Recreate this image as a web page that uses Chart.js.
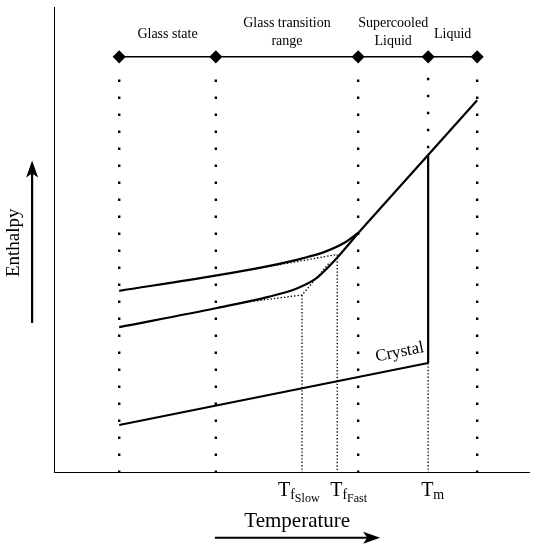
<!DOCTYPE html>
<html>
<head>
<meta charset="utf-8">
<script src="https://cdn.jsdelivr.net/npm/chart.js@4.4.1/dist/chart.umd.min.js"></script>
<style>
  html, body { margin: 0; padding: 0; background: #fff; }
  #wrap { width: 548px; height: 550px; }
</style>
</head>
<body>
<div id="wrap"><canvas id="chart"></canvas></div>
<script>
// Schematic units: temperature 0..100 (left to right), enthalpy 0..100 (bottom to top)
const regionBounds = [13.7, 34.0, 63.9, 78.6, 88.9];
const regionNames = [['Glass state'], ['Glass transition', 'range'], ['Supercooled', 'Liquid'], ['Liquid']];
const rangeLevel = 89.3;
const guideTop = 84.8;

const fastCoolT = [13.7, 34.2, 45.0, 52.0, 57.0, 61.0, 64.1];
const fastCoolH = [39.1, 42.4, 44.4, 46.0, 47.5, 49.4, 51.7];
const slowCoolT = [13.7, 34.2, 45.0, 51.0, 55.0, 58.0, 60.0, 64.1];
const slowCoolH = [31.3, 35.4, 37.8, 39.6, 41.7, 44.6, 46.8, 51.7];
const liquidT = [64.1, 88.9];
const liquidH = [51.7, 80.0];
const crystalT = [13.7, 78.6];
const crystalH = [10.3, 23.6];

const tfSlow = 52.1, tfFast = 59.5, tm = 78.6;
const tmLiquidH = 68.2;
// fictive temperature constructions: glass extension, then liquid extension
const slowGlassExt = [[39.1, 36.5], [tfSlow, 38.2], [58.0, 45.3]];
const fastGlassExt = [[41.2, 43.6], [tfFast, 46.9]];

const pts = (xs, ys) => xs.map((x, i) => ({ x: x, y: ys[i] }));
const seg = (a) => a.map(p => ({ x: p[0], y: p[1] }));

const solid = { showLine: true, pointRadius: 0, borderColor: '#000', borderWidth: 2.2, fill: false };
const sparse = { showLine: true, pointRadius: 0, borderColor: '#000', borderWidth: 2.4, borderDash: [2.4, 14.6] };
const fine = { showLine: true, pointRadius: 0, borderColor: '#000', borderWidth: 1.3, borderDash: [1.4, 2] };

const datasets = [];
// region guides
regionBounds.forEach(x => {
  if (x === tm) {
    datasets.push({ ...sparse, data: [{ x: x, y: guideTop }, { x: x, y: tmLiquidH }] });
  } else {
    datasets.push({ ...sparse, data: [{ x: x, y: 0 }, { x: x, y: guideTop }] });
  }
});
// fictive temperature guides
datasets.push({ ...fine, data: seg(slowGlassExt) });
datasets.push({ ...fine, data: seg(fastGlassExt) });
datasets.push({ ...fine, data: [{ x: tfSlow, y: 38.2 }, { x: tfSlow, y: 0 }] });
datasets.push({ ...fine, data: [{ x: tfFast, y: 46.9 }, { x: tfFast, y: 0 }] });
datasets.push({ ...fine, data: [{ x: tm, y: crystalH[1] }, { x: tm, y: 0 }] });
// curves
datasets.push({ ...solid, data: pts(fastCoolT, fastCoolH), cubicInterpolationMode: 'monotone' });
datasets.push({ ...solid, data: pts(slowCoolT, slowCoolH), cubicInterpolationMode: 'monotone' });
datasets.push({ ...solid, data: pts(liquidT, liquidH) });
datasets.push({ ...solid, data: pts(crystalT, crystalH) });
datasets.push({ ...solid, data: [{ x: tm, y: crystalH[1] }, { x: tm, y: tmLiquidH }] });
// region bar with diamonds
datasets.push({ ...solid, borderWidth: 1.5, data: regionBounds.map(x => ({ x: x, y: rangeLevel })),
  pointRadius: 5.5, pointStyle: 'rectRot', pointBackgroundColor: '#000', pointBorderColor: '#000' });
// axes
datasets.push({ ...solid, borderWidth: 2, data: [{ x: 0, y: 100 }, { x: 0, y: 0 }, { x: 100, y: 0 }] });
// axis arrows (outside the plot area), heads drawn by the plugin
datasets.push({ ...solid, clip: false, arrow: true, data: [{ x: 33.8, y: -13.9 }, { x: 66.0, y: -13.9 }] });
datasets.push({ ...solid, clip: false, arrow: true, data: [{ x: -4.6, y: 32.2 }, { x: -4.6, y: 64.5 }] });

const serif = '"Liberation Serif", "DejaVu Serif", serif';

const labels = {
  id: 'labels',
  afterDatasetsDraw(chart) {
    const { ctx, scales: { x, y } } = chart;
    const px = v => x.getPixelForValue(v), py = v => y.getPixelForValue(v);
    ctx.save();
    ctx.fillStyle = '#000';

    // arrow heads
    chart.data.datasets.forEach((ds, i) => {
      if (!ds.arrow) return;
      const el = chart.getDatasetMeta(i).data;
      const a = el[el.length - 2], b = el[el.length - 1];
      const ang = Math.atan2(b.y - a.y, b.x - a.x);
      ctx.save();
      ctx.translate(b.x, b.y);
      ctx.rotate(ang);
      ctx.beginPath();
      ctx.moveTo(12, 0);
      ctx.lineTo(-5, -6);
      ctx.lineTo(-1, 0);
      ctx.lineTo(-5, 6);
      ctx.closePath();
      ctx.fill();
      ctx.restore();
    });

    ctx.textAlign = 'center';
    ctx.textBaseline = 'middle';
    ctx.font = '14px ' + serif;
    regionNames.forEach((lines, i) => {
      const cx = (regionBounds[i] + regionBounds[i + 1]) / 2;
      const cy = lines.length === 1 ? 94.2 : 96.6;
      lines.forEach((t, k) => ctx.fillText(t, px(cx), py(cy) + k * 18));
    });

    ctx.font = '21px ' + serif;
    ctx.fillText('Temperature', px(51.1), py(-10.5));

    ctx.save();
    ctx.translate(px(-8.4), py(49.4));
    ctx.rotate(-Math.PI / 2);
    ctx.font = '19px ' + serif;
    ctx.fillText('Enthalpy', 0, 0);
    ctx.restore();

    ctx.save();
    ctx.translate(px(72.6), py(25.9));
    ctx.rotate(-Math.atan2(py(crystalH[0]) - py(crystalH[1]), px(crystalT[1]) - px(crystalT[0])));
    ctx.font = '17px ' + serif;
    ctx.fillText('Crystal', 0, 0);
    ctx.restore();

    // temperature marks
    const mark = (xv, shift, sub, subsub) => {
      ctx.textAlign = 'left';
      ctx.textBaseline = 'alphabetic';
      const base = py(0) + 23;
      const left = px(xv) + shift;
      ctx.font = '20px ' + serif;
      const tw = ctx.measureText('T').width;
      ctx.fillText('T', left, base);
      ctx.font = '14px ' + serif;
      const sw = ctx.measureText(sub).width;
      ctx.fillText(sub, left + tw, base + 3);
      if (subsub) {
        ctx.font = '12px ' + serif;
        ctx.fillText(subsub, left + tw + sw, base + 6);
      }
    };
    mark(tfSlow, -24, 'f', 'Slow');
    mark(tfFast, -7, 'f', 'Fast');
    mark(tm, -7, 'm', '');
    ctx.restore();
  }
};

new Chart(document.getElementById('chart'), {
  type: 'scatter',
  data: { datasets: datasets },
  options: {
    responsive: true,
    maintainAspectRatio: false,
    animation: false,
    layout: { padding: { left: 54, right: 18, top: 7, bottom: 77 } },
    plugins: { legend: { display: false }, tooltip: { enabled: false } },
    scales: {
      x: { type: 'linear', min: 0, max: 100, display: false },
      y: { type: 'linear', min: 0, max: 100, display: false }
    }
  },
  plugins: [labels]
});
</script>
</body>
</html>
